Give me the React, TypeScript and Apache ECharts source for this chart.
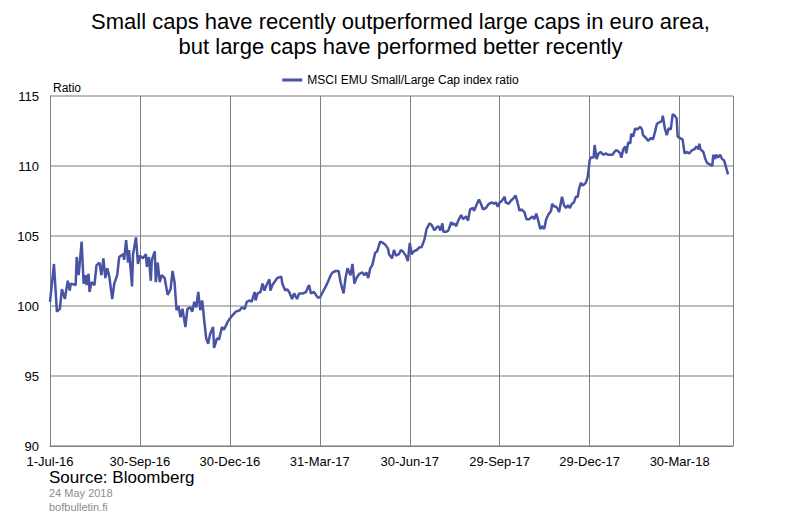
import { useEffect, useRef } from 'react';
import * as echarts from 'echarts';

// Calendar days counted from 1-Jul-2016
const days = [
  0, 4, 7, 10, 12, 15, 18, 20, 21, 26, 27, 29, 32, 34, 36, 37, 39, 40, 42, 45,
  47, 50, 52, 54, 56, 58, 60, 63, 65, 68, 70, 74, 75, 77, 79, 80, 83, 84, 87, 89,
  91, 94, 97, 98, 100, 102, 103, 106, 107, 109, 111, 113, 116, 119, 122, 124, 126, 128, 130, 132,
  134, 137, 139, 142, 144, 146, 148, 150, 152, 154, 156, 158, 160, 162, 165, 166, 169, 171, 174, 176,
  180, 183, 188, 192, 194, 197, 199, 202, 204, 207, 208, 210, 213, 215, 217, 219, 222, 223, 225, 228,
  230, 234, 235, 238, 240, 242, 245, 247, 250, 252, 256, 259, 262, 264, 267, 271, 273, 276, 279, 281,
  284, 286, 289, 292, 294, 297, 299, 301, 304, 306, 308, 310, 313, 316, 318, 320, 322, 324, 326, 329,
  331, 334, 337, 339, 342, 343, 346, 348, 350, 353, 355, 357, 360, 362, 364, 366, 368, 371, 374, 376,
  379, 381, 384, 386, 389, 391, 393, 395, 397, 398, 401, 403, 406, 407, 409, 411, 413, 416, 418, 421,
  423, 425, 428, 429, 432, 434, 436, 438, 441, 444, 447, 449, 451, 453, 455, 457, 460, 461, 464, 466,
  469, 471, 473, 475, 477, 480, 482, 485, 488, 490, 492, 494, 496, 498, 500, 502, 504, 507, 508, 510,
  512, 514, 515, 518, 520, 522, 524, 526, 528, 530, 532, 534, 535, 537, 539, 542, 544, 546, 547, 550,
  551, 553, 555, 557, 560, 562, 565, 567, 569, 572, 574, 577, 578, 580, 582, 583, 585, 587, 588, 590,
  592, 594, 597, 599, 600, 603, 605, 608, 610, 612, 614, 616, 619, 620, 622, 624, 626, 628, 630, 632,
  634, 635, 637, 640, 642, 644, 647, 649, 652, 654, 656, 657, 658, 661, 663, 665, 668, 670, 671, 673,
  674, 676, 678, 680, 682, 684, 686,
];

const ratio = [
  100.3, 103.0, 99.6, 99.8, 101.2, 100.5, 101.8, 101.1, 101.6, 101.5, 103.5, 102.2, 104.6, 101.6, 102.2, 101.5, 102.3, 101.0, 101.7, 101.5,
  102.9, 103.1, 102.2, 103.4, 102.0, 102.7, 102.1, 100.5, 101.6, 102.2, 103.5, 103.7, 103.3, 104.7, 103.1, 104.0, 101.4, 103.7, 104.9, 103.0,
  103.6, 103.4, 103.7, 102.8, 103.5, 101.8, 103.3, 103.9, 101.7, 103.1, 101.7, 102.2, 102.0, 100.8, 101.2, 102.5, 101.7, 99.7, 100.0, 99.2,
  99.8, 98.5, 99.8, 99.9, 99.6, 100.3, 99.9, 101.0, 99.7, 100.4, 99.0, 97.7, 97.3, 98.0, 98.5, 97.0, 97.7, 97.6, 98.5, 98.3,
  98.9, 99.2, 99.6, 99.7, 99.9, 99.8, 100.3, 100.4, 100.3, 101.0, 100.4, 100.9, 101.0, 101.6, 101.1, 101.5, 101.9, 101.1, 101.5, 101.8,
  102.0, 102.1, 101.6, 101.1, 101.2, 101.0, 100.5, 100.9, 100.5, 100.9, 100.9, 101.0, 101.5, 100.9, 101.0, 100.6, 100.6, 101.0, 101.4, 101.7,
  102.2, 102.4, 102.5, 102.5, 101.7, 100.9, 102.0, 102.7, 102.2, 103.0, 101.6, 102.0, 102.3, 102.4, 102.2, 102.4, 102.0, 102.7, 102.9, 103.8,
  103.9, 104.6, 104.5, 104.4, 104.1, 103.7, 103.4, 104.0, 103.6, 103.7, 104.0, 103.9, 103.6, 103.2, 104.5, 103.7, 103.9, 104.0, 104.2, 104.2,
  104.8, 105.5, 105.9, 105.8, 105.4, 105.6, 105.7, 105.4, 105.9, 105.3, 105.3, 105.4, 106.0, 105.8, 105.9, 105.7, 106.1, 106.5, 106.2, 106.4,
  106.1, 106.9, 107.0, 106.8, 107.3, 107.6, 107.3, 106.9, 107.0, 107.3, 107.4, 107.3, 107.4, 107.1, 107.4, 107.5, 107.8, 107.4, 107.3, 107.5,
  107.7, 107.9, 107.4, 106.8, 106.9, 106.7, 106.2, 106.2, 106.4, 106.2, 106.6, 106.1, 105.5, 105.7, 105.5, 106.2, 106.5, 106.8, 107.3, 107.1,
  107.1, 106.9, 106.7, 107.8, 107.2, 107.0, 107.2, 107.0, 107.3, 107.4, 107.8, 107.8, 108.3, 108.8, 108.6, 108.8, 109.2, 110.4, 110.6, 110.6,
  111.5, 110.5, 110.9, 111.0, 110.8, 110.9, 110.8, 110.8, 110.8, 111.1, 111.1, 110.9, 110.6, 111.2, 111.4, 110.9, 111.7, 111.6, 112.3, 112.1,
  112.7, 112.6, 112.8, 112.6, 112.2, 112.0, 111.8, 112.0, 111.9, 112.4, 113.0, 113.1, 113.2, 113.6, 112.7, 112.2, 112.7, 112.6, 113.7, 113.6,
  113.4, 112.1, 112.0, 111.9, 110.9, 111.0, 110.9, 111.1, 111.2, 111.4, 111.2, 111.6, 111.2, 111.0, 110.5, 110.2, 110.1, 110.0, 110.8, 110.5,
  110.8, 110.6, 110.8, 110.5, 110.4, 109.9, 109.4,
];

// x-axis labels, one every 91 days (13 weeks)
const quarterLabels = [
  '1-Jul-16', '30-Sep-16', '30-Dec-16', '31-Mar-17',
  '30-Jun-17', '29-Sep-17', '29-Dec-17', '30-Mar-18',
];

const FONT = 'Arial, "Liberation Sans", sans-serif';

const App = () => {
  const chartRef = useRef<HTMLDivElement>(null);

  useEffect(() => {
    if (!chartRef.current) return;
    const chart = echarts.init(chartRef.current, null, { renderer: 'svg' });

    const options: echarts.EChartsOption = {
      animation: false,
      backgroundColor: '#ffffff',
      textStyle: { fontFamily: FONT },
      title: {
        text: 'Small caps have recently outperformed large caps in euro area,\nbut large caps have performed better recently',
        left: 'center',
        top: 4,
        textStyle: {
          fontSize: 22,
          fontWeight: 'normal',
          color: '#000',
          lineHeight: 25,
          fontFamily: FONT,
        },
      },
      legend: {
        top: 69,
        left: 'center',
        icon: 'rect',
        itemWidth: 20,
        itemHeight: 3,
        itemGap: 4,
        textStyle: { fontSize: 12, color: '#000', fontFamily: FONT },
        data: ['MSCI EMU Small/Large Cap index ratio'],
      },
      grid: {
        left: 50,
        right: 68,
        top: 96,
        bottom: 77,
        containLabel: false,
      },
      xAxis: {
        type: 'value',
        min: 0,
        max: 691,
        interval: 91,
        axisLine: { show: true, onZero: false, lineStyle: { color: '#7f7f7f', width: 1 } },
        axisTick: { show: false },
        axisLabel: {
          color: '#000',
          fontSize: 13,
          margin: 9,
          showMaxLabel: false,
          formatter: (v: number) => (v % 91 === 0 ? quarterLabels[v / 91] ?? '' : ''),
        },
        splitLine: { show: true, lineStyle: { color: '#7f7f7f', width: 1 } },
      },
      yAxis: {
        type: 'value',
        min: 90,
        max: 115,
        interval: 5,
        axisLine: { show: true, lineStyle: { color: '#7f7f7f', width: 1 } },
        axisTick: { show: false },
        axisLabel: { color: '#000', fontSize: 13, margin: 11 },
        splitLine: { show: true, lineStyle: { color: '#a6a6a6', width: 1.5 } },
      },
      graphic: [
        {
          type: 'text',
          left: 53,
          top: 82,
          style: { text: 'Ratio', fontSize: 12, fill: '#000', fontFamily: FONT },
        },
        {
          type: 'text',
          left: 49,
          top: 469,
          style: { text: 'Source: Bloomberg', fontSize: 17, fill: '#000', fontFamily: FONT },
        },
        {
          type: 'text',
          left: 49,
          top: 487,
          style: { text: '24 May 2018', fontSize: 11, fill: '#8c8c8c', fontFamily: FONT },
        },
        {
          type: 'text',
          left: 49,
          top: 501,
          style: { text: 'bofbulletin.fi', fontSize: 11, fill: '#8c8c8c', fontFamily: FONT },
        },
      ],
      series: [
        {
          name: 'MSCI EMU Small/Large Cap index ratio',
          type: 'line',
          data: days.map((d, i) => [d, ratio[i]]),
          showSymbol: false,
          symbol: 'none',
          lineStyle: { color: '#4953a3', width: 2.5 },
          itemStyle: { color: '#4953a3' },
        },
      ],
    };

    chart.setOption(options);

    return () => {
      chart.dispose();
    };
  }, []);

  return (
    <div
      ref={chartRef}
      style={{
        position: 'fixed',
        left: 0,
        top: 0,
        width: '801px',
        height: '523px',
        backgroundColor: '#ffffff',
      }}
    />
  );
};

export default App;
